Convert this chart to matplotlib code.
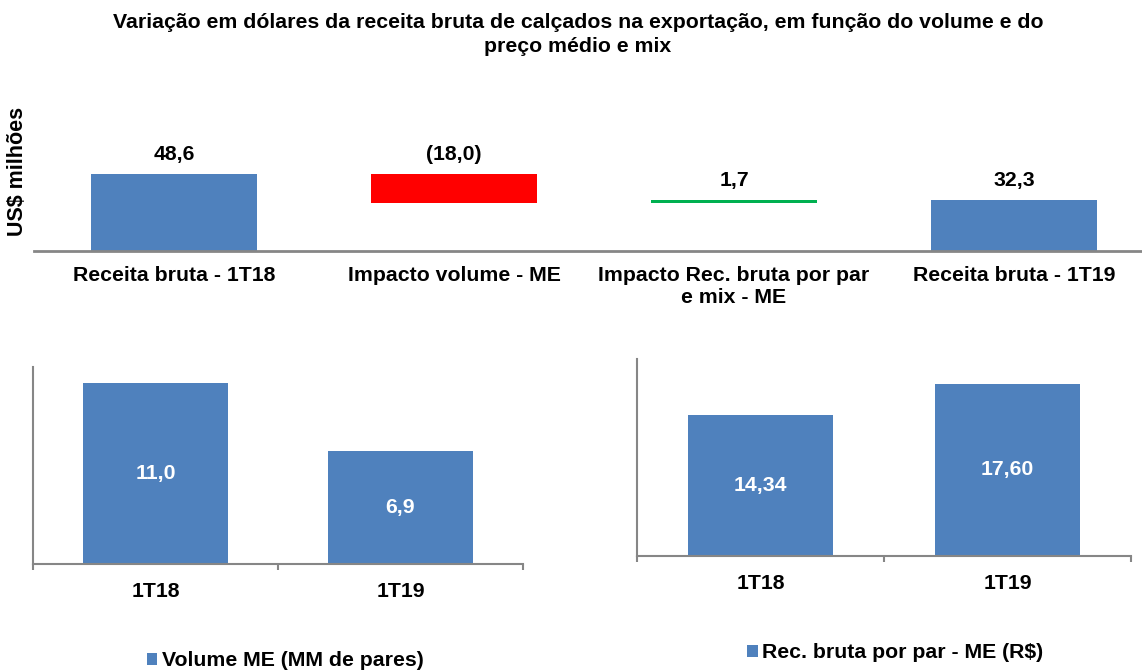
import numpy as np
import matplotlib
matplotlib.use("Agg")
import matplotlib.pyplot as plt

plt.rcParams['font.family'] = ['Liberation Sans', 'DejaVu Sans']
plt.rcParams['font.weight'] = 'bold'

# waterfall data
wf_labels = ["Receita bruta - 1T18", "Impacto volume - ME",
             "Impacto Rec. bruta por par\ne mix - ME", "Receita bruta - 1T19"]
wf_values = [48.6, -18.0, 1.7, 32.3]
wf_text = ["48,6", "(18,0)", "1,7", "32,3"]
wf_colors = ["#4F81BD", "#FF0000", "#00B050", "#4F81BD"]

# small charts
periods = ["1T18", "1T19"]
volume = [11.0, 6.9]
volume_text = ["11,0", "6,9"]
rec_par = [14.34, 17.60]
rec_par_text = ["14,34", "17,60"]

blue = "#4F81BD"
gray = "#868686"
fs = 15.3

fig = plt.figure(figsize=(11.42, 6.70), dpi=100)

fig.text(578/1142, 1 - 22/670, "Variação em dólares da receita bruta de calçados na exportação, em função do volume e do",
         ha='center', va='center', fontsize=fs)
fig.text(578/1142, 1 - 46/670, "preço médio e mix", ha='center', va='center', fontsize=fs)

### waterfall ###
ax = fig.add_axes([34/1142, 1 - 251/670, 1120/1142, 160/670])
x = np.arange(len(wf_values))
bottoms = []
heights = []
run = 0
for i, v in enumerate(wf_values):
    if i == 0 or i == len(wf_values) - 1:
        bottoms.append(0)
        heights.append(v)
        run = v
    else:
        new = run + v
        bottoms.append(min(run, new))
        heights.append(abs(v))
        run = new
ax.bar(x, heights, bottom=bottoms, width=0.59, color=wf_colors)
for i in range(len(x)):
    ax.annotate(wf_text[i], (x[i], bottoms[i] + heights[i]), xytext=(0, 7),
                textcoords='offset points', ha='center', va='bottom', fontsize=fs)
ax.set_xlim(-0.5, 3.5)
ax.set_ylim(0, 101)
ax.set_xticks(x)
ax.set_xticklabels(wf_labels, fontsize=fs)
ax.tick_params(axis='x', length=0, pad=11)
ax.set_yticks([])
for s in ['top', 'right', 'left']:
    ax.spines[s].set_visible(False)
ax.spines['bottom'].set_color(gray)
ax.spines['bottom'].set_linewidth(2)
fig.text(18/1142, 1 - 171/670, "US$ milhões", rotation=90, ha='center', va='center', fontsize=15.5)


def small_bar(rect, vals, texts, ymax, label, leg_xy):
    a = fig.add_axes(rect)
    xs = np.arange(len(vals))
    a.bar(xs, vals, width=0.59, color=blue, label=label)
    for i in range(len(xs)):
        a.text(xs[i], vals[i] / 2, texts[i], ha='center', va='center', color='white', fontsize=fs)
    a.set_xlim(-0.5, 1.5)
    a.set_ylim(0, ymax)
    a.set_xticks(xs)
    a.set_xticklabels(periods, fontsize=fs)
    a.set_xticks([-0.5, 0.5, 1.5], minor=True)
    a.tick_params(axis='x', which='major', length=0, pad=13)
    a.tick_params(axis='x', which='minor', length=4.5, width=1.5, color=gray)
    a.set_yticks([])
    for s in ['top', 'right']:
        a.spines[s].set_visible(False)
    for s in ['left', 'bottom']:
        a.spines[s].set_color(gray)
        a.spines[s].set_linewidth(1.5)
    a.legend(loc='center', bbox_to_anchor=leg_xy, bbox_transform=fig.transFigure,
             frameon=False, fontsize=fs, handlelength=0.5, handleheight=0.5,
             handletextpad=0.2)
    return a


small_bar([33/1142, 1 - 564/670, 490/1142, 197/670], volume, volume_text, 12.0,
          "Volume ME (MM de pares)", (285/1142, 1 - 661/670))
small_bar([637/1142, 1 - 556/670, 494/1142, 197/670], rec_par, rec_par_text, 20.1,
          "Rec. bruta por par - ME (R$)", (895/1142, 1 - 653/670))

fig.savefig("out.png", dpi=100)
